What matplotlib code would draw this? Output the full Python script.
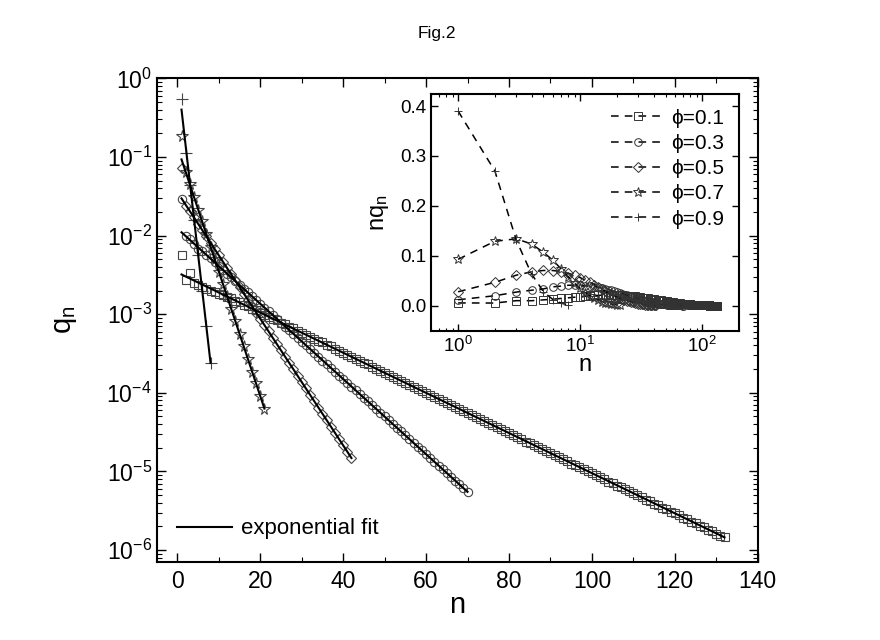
import numpy as np
import matplotlib
matplotlib.use('Agg')
import matplotlib.pyplot as plt
from matplotlib.ticker import MultipleLocator, FormatStrFormatter, FixedLocator, LogFormatterSciNotation, NullFormatter

plt.rcParams['font.family'] = ['Liberation Sans', 'DejaVu Sans']
plt.rcParams['axes.unicode_minus'] = False
plt.rcParams['mathtext.default'] = 'regular'

# log10(q_n), n = 1, 2, 3, ...
logq_01 = [-2.25, -2.57, -2.47, -2.60, -2.63, -2.66, -2.68, -2.70, -2.72, -2.74, -2.76, -2.78,
           -2.80, -2.83, -2.85, -2.88, -2.90, -2.93, -2.95, -2.98, -3.01, -3.03,
           -3.06, -3.08, -3.11, -3.13, -3.16, -3.18, -3.21, -3.24, -3.26, -3.29,
           -3.31, -3.34, -3.36, -3.39, -3.41, -3.44, -3.47, -3.49, -3.52, -3.54,
           -3.57, -3.59, -3.62, -3.64, -3.67, -3.70, -3.72, -3.75, -3.77, -3.80,
           -3.82, -3.85, -3.87, -3.90, -3.93, -3.95, -3.98, -4.00, -4.03, -4.05,
           -4.08, -4.10, -4.13, -4.16, -4.18, -4.21, -4.23, -4.26, -4.28, -4.31,
           -4.33, -4.36, -4.39, -4.41, -4.44, -4.46, -4.49, -4.51, -4.54, -4.56,
           -4.59, -4.62, -4.64, -4.67, -4.69, -4.72, -4.74, -4.77, -4.79, -4.82,
           -4.84, -4.87, -4.90, -4.92, -4.95, -4.97, -5.00, -5.02, -5.05, -5.07,
           -5.10, -5.13, -5.15, -5.18, -5.20, -5.23, -5.25, -5.28, -5.30, -5.33,
           -5.36, -5.38, -5.41, -5.43, -5.46, -5.48, -5.51, -5.53, -5.56, -5.59,
           -5.61, -5.64, -5.66, -5.69, -5.71, -5.74, -5.76, -5.79, -5.82, -5.84]
logq_03 = [-1.54, -2.00, -2.04, -2.11, -2.17, -2.20, -2.25, -2.29, -2.34, -2.39,
           -2.44, -2.49, -2.53, -2.58, -2.63, -2.68, -2.72, -2.77, -2.82, -2.87,
           -2.92, -2.96, -3.01, -3.06, -3.11, -3.16, -3.20, -3.25, -3.30, -3.35,
           -3.39, -3.44, -3.49, -3.54, -3.59, -3.63, -3.68, -3.73, -3.78, -3.83,
           -3.87, -3.92, -3.97, -4.02, -4.06, -4.11, -4.16, -4.21, -4.26, -4.30,
           -4.35, -4.40, -4.45, -4.49, -4.54, -4.59, -4.64, -4.69, -4.73, -4.78,
           -4.83, -4.88, -4.93, -4.97, -5.02, -5.07, -5.12, -5.16, -5.21, -5.26]
logq_05 = [-1.14, -1.63, -1.69, -1.77, -1.85, -1.93, -2.01, -2.09, -2.17, -2.25,
           -2.33, -2.41, -2.49, -2.57, -2.66, -2.74, -2.82, -2.90, -2.98, -3.06,
           -3.14, -3.22, -3.30, -3.38, -3.46, -3.54, -3.62, -3.70, -3.78, -3.86,
           -3.94, -4.03, -4.11, -4.19, -4.27, -4.35, -4.43, -4.51, -4.59, -4.67,
           -4.75, -4.83]
logq_07 = [-0.73, -1.19, -1.35, -1.51, -1.67, -1.82, -1.98, -2.14, -2.30, -2.46,
           -2.62, -2.77, -2.93, -3.09, -3.25, -3.41, -3.57, -3.73, -3.88, -4.04, -4.20]
logq_09 = [-0.26, -0.95, -1.36, -1.80, -2.25, -2.70, -3.15, -3.62]

# exponential fits, end points (n, q)
fit_n_01 = [1, 132]
fit_q_01 = [3.2e-3, 1.45e-6]
fit_n_03 = [1, 70]
fit_q_03 = [1.1e-2, 5.5e-6]
fit_n_05 = [1, 42]
fit_q_05 = [2.97e-2, 1.48e-5]
fit_n_07 = [1, 21]
fit_q_07 = [9.3e-2, 6.3e-5]
fit_n_09 = [1, 8]
fit_q_09 = [0.40, 2.4e-4]

# first inset points that are read separately (rest is n*q_n)
nq_head_01 = []
nq_head_03 = [0.012]
nq_head_05 = [0.028]
nq_head_07 = [0.093]
nq_head_09 = [0.39, 0.27]

labels = ['ϕ=0.1', 'ϕ=0.3', 'ϕ=0.5', 'ϕ=0.7', 'ϕ=0.9']
markers = ['s', 'o', 'D', '*', '+']
msizes = [5.5, 6, 5, 8.5, 8]

main_yticks = [1e-6, 1e-5, 1e-4, 1e-3, 1e-2, 1e-1, 1e0]
inset_xticks = [1, 10, 100]

series = [logq_01, logq_03, logq_05, logq_07, logq_09]
fits = [(fit_n_01, fit_q_01), (fit_n_03, fit_q_03), (fit_n_05, fit_q_05),
        (fit_n_07, fit_q_07), (fit_n_09, fit_q_09)]
heads = [nq_head_01, nq_head_03, nq_head_05, nq_head_07, nq_head_09]

fig = plt.figure(figsize=(8.8, 6.4), dpi=100)
ax = fig.add_axes([0.178, 0.1223, 0.683, 0.7553])

for logq, m, ms in zip(series, markers, msizes):
    n = np.arange(1, len(logq) + 1)
    ax.plot(n, 10 ** np.array(logq), ls='none', marker=m, ms=ms, mfc='none',
            mec='#444444', mew=0.8)

for i, (fn, fq) in enumerate(fits):
    ax.plot(fn, fq, color='k', lw=1.5, label='exponential fit' if i == 0 else None)

ax.set_yscale('log')
ax.set_xlim(-5, 140)
ax.set_ylim(7.1e-7, 1)
ax.xaxis.set_major_locator(MultipleLocator(20))
ax.xaxis.set_minor_locator(MultipleLocator(10))
ax.yaxis.set_major_locator(FixedLocator(main_yticks))
ax.yaxis.set_major_formatter(LogFormatterSciNotation())
minor = [k * t for t in [1e-7] + main_yticks[:-1] for k in range(2, 10)]
ax.yaxis.set_minor_locator(FixedLocator([v for v in minor if 7.1e-7 <= v <= 1]))
ax.yaxis.set_minor_formatter(NullFormatter())
ax.tick_params(which='both', direction='in', top=True, right=True, labelsize=16.5)
ax.tick_params(which='major', length=6.5, width=1)
ax.tick_params(which='minor', length=3.5, width=0.8)
ax.tick_params(axis='x', pad=6)
for s in ax.spines.values():
    s.set_linewidth(1.5)
ax.set_xlabel('n', fontsize=21)
ax.set_ylabel('q$_n$', fontsize=21)
ax.xaxis.set_label_coords(0.5, -0.06)
ax.yaxis.set_label_coords(-0.13, 0.5)
ax.legend(loc='lower left', bbox_to_anchor=(0.0, 0.005), frameon=False, fontsize=16,
          handlelength=2.5, handletextpad=0.4)

fig.text(0.497, 0.948, 'Fig.2', ha='center', va='center', fontsize=12.5)

# inset: n q_n on log n
axi = fig.add_axes([0.4898, 0.4833, 0.35, 0.3697])
for logq, head, m, lab in zip(series, heads, markers, labels):
    n = np.arange(1, len(logq) + 1)
    nq = n * 10 ** np.array(logq)
    nq[:len(head)] = head
    axi.plot(n, nq, ls=(0, (5, 4)), color='k', lw=1.1, marker=m,
             ms=7.5 if m == '*' else 5.5, mfc='none', mec='#333333', mew=0.7, label=lab)

axi.set_xscale('log')
axi.set_xlim(0.6, 200)
axi.set_ylim(-0.05, 0.424)
axi.xaxis.set_major_locator(FixedLocator(inset_xticks))
axi.xaxis.set_major_formatter(LogFormatterSciNotation())
iminor = [k * t for t in [0.1, 1, 10, 100] for k in range(2, 10)]
axi.xaxis.set_minor_locator(FixedLocator([v for v in iminor if 0.6 <= v <= 200]))
axi.xaxis.set_minor_formatter(NullFormatter())
axi.yaxis.set_major_locator(FixedLocator([0.0, 0.1, 0.2, 0.3, 0.4]))
axi.yaxis.set_major_formatter(FormatStrFormatter('%.1f'))
axi.tick_params(which='both', direction='in', top=True, right=True, labelsize=13.5)
axi.tick_params(which='major', length=5, width=1)
axi.tick_params(which='minor', length=2.5, width=0.8)
for s in axi.spines.values():
    s.set_linewidth(1.5)
axi.set_xlabel('n', fontsize=17)
axi.set_ylabel('nq$_n$', fontsize=17)
axi.xaxis.set_label_coords(0.5, -0.1)
axi.yaxis.set_label_coords(-0.13, 0.5)
axi.legend(loc='upper right', frameon=False, fontsize=15, handlelength=2.6,
           handletextpad=0.3, labelspacing=0.3, borderaxespad=0.3)

fig.savefig('out.png', dpi=100)
